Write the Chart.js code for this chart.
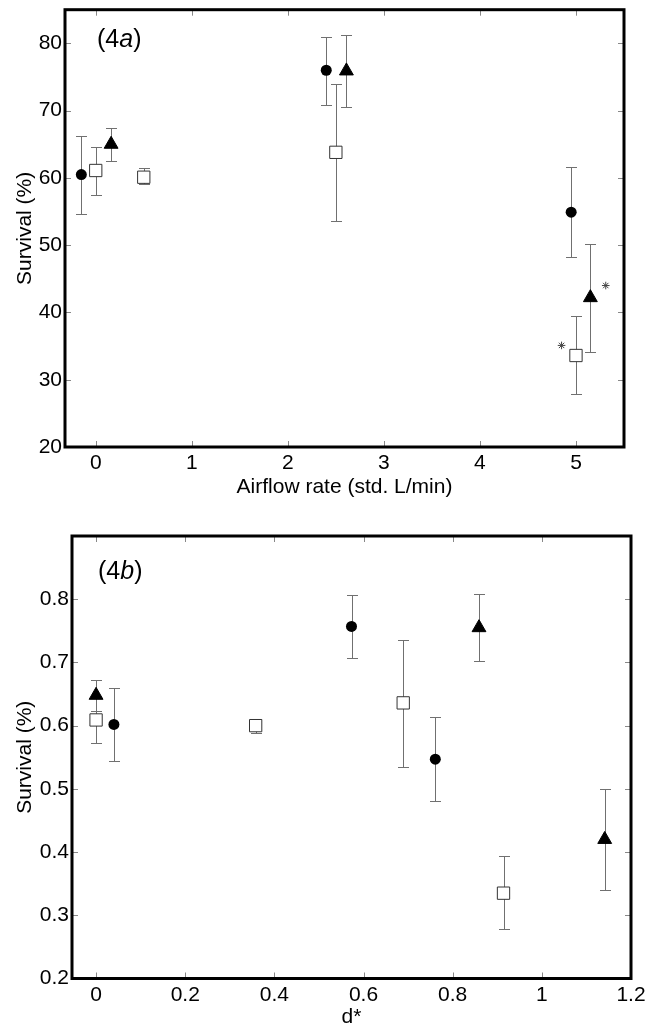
<!DOCTYPE html>
<html><head><meta charset="utf-8">
<script src="https://cdn.jsdelivr.net/npm/chart.js@4.4.0/dist/chart.umd.min.js"></script>
<style>
html,body{margin:0;padding:0;background:#fff;overflow:hidden;width:656px;height:1027px;}
canvas{position:absolute;left:0;}
#a{top:0;}
#b{top:500px;}
</style></head><body>
<canvas id="a" width="656" height="500"></canvas>
<canvas id="b" width="656" height="530"></canvas>
<script>
// ---------- Panel (4a): survival vs airflow rate ----------
const airflowTicks = [0, 1, 2, 3, 4, 5];
const survivalPctTicks = [20, 30, 40, 50, 60, 70, 80];
const circleA_x  = [-0.15, 2.40, 4.95];
const circleA_y  = [60.5, 76.0, 54.9];
const circleA_lo = [54.7, 70.9, 48.3];
const circleA_hi = [66.3, 81.0, 61.6];
const squareA_x  = [0, 0.5, 2.5, 5.0];
const squareA_y  = [61.1, 60.1, 63.8, 33.6];
const squareA_lo = [57.5, 59.1, 53.6, 27.9];
const squareA_hi = [64.6, 61.4, 73.9, 39.4];
const triA_x  = [0.16, 2.61, 5.15];
const triA_y  = [65.0, 75.9, 42.2];
const triA_lo = [62.5, 70.5, 34.1];
const triA_hi = [67.4, 81.2, 50.1];
const starA_x = [4.85, 5.31];
const starA_y = [35.1, 44.0];

// ---------- Panel (4b): survival vs d* ----------
const dTicks = [0, 0.2, 0.4, 0.6, 0.8, 1, 1.2];
const survivalFracTicks = [0.2, 0.3, 0.4, 0.5, 0.6, 0.7, 0.8];
const circleB_x  = [0.04, 0.573, 0.761];
const circleB_y  = [0.602, 0.757, 0.547];
const circleB_lo = [0.544, 0.707, 0.481];
const circleB_hi = [0.660, 0.807, 0.613];
const squareB_x  = [0, 0.358, 0.689, 0.914];
const squareB_y  = [0.609, 0.600, 0.636, 0.335];
const squareB_lo = [0.572, 0.588, 0.535, 0.278];
const squareB_hi = [0.646, 0.611, 0.736, 0.393];
const triB_x  = [0, 0.859, 1.141];
const triB_y  = [0.648, 0.755, 0.420];
const triB_lo = [0.623, 0.702, 0.340];
const triB_hi = [0.672, 0.808, 0.500];

const FONT = "'Liberation Sans', Arial, Helvetica, sans-serif";

function pts(xs, ys) { return xs.map((x, i) => ({x: x, y: ys[i]})); }

const errorBarPlugin = {
  id: 'errorBars',
  beforeDatasetsDraw(chart) {
    const ctx = chart.ctx, xs = chart.scales.x, ys = chart.scales.y;
    ctx.save();
    ctx.strokeStyle = '#707070';
    ctx.lineWidth = 1;
    chart.data.datasets.forEach(ds => {
      if (!ds.errLo) return;
      ds.data.forEach((p, j) => {
        const px = Math.round(xs.getPixelForValue(p.x)) + 0.5;
        const t = Math.round(ys.getPixelForValue(ds.errHi[j])) + 0.5;
        const b = Math.round(ys.getPixelForValue(ds.errLo[j])) + 0.5;
        ctx.beginPath();
        ctx.moveTo(px, t); ctx.lineTo(px, b);
        ctx.moveTo(px - 5.5, t); ctx.lineTo(px + 5.5, t);
        ctx.moveTo(px - 5.5, b); ctx.lineTo(px + 5.5, b);
        ctx.stroke();
      });
    });
    ctx.restore();
  }
};

const framePlugin = {
  id: 'frame',
  beforeDatasetsDraw(chart) {
    const ctx = chart.ctx, a = chart.chartArea, xs = chart.scales.x, ys = chart.scales.y;
    ctx.save();
    ctx.strokeStyle = '#888';
    ctx.lineWidth = 1;
    ctx.beginPath();
    xs.ticks.forEach(t => {
      const px = Math.round(xs.getPixelForValue(t.value)) + 0.5;
      ctx.moveTo(px, a.bottom); ctx.lineTo(px, a.bottom - 6);
      ctx.moveTo(px, a.top); ctx.lineTo(px, a.top + 6);
    });
    ys.ticks.forEach(t => {
      const py = Math.round(ys.getPixelForValue(t.value)) + 0.5;
      ctx.moveTo(a.left, py); ctx.lineTo(a.left + 6, py);
      ctx.moveTo(a.right, py); ctx.lineTo(a.right - 6, py);
    });
    ctx.stroke();
    ctx.restore();
  },
  afterDatasetsDraw(chart) {
    const ctx = chart.ctx, a = chart.chartArea;
    ctx.save();
    ctx.strokeStyle = '#000';
    ctx.lineWidth = 3;
    ctx.strokeRect(a.left, a.top, a.right - a.left, a.bottom - a.top);
    const o = chart.options.plugins.panelLabel;
    if (o) {
      ctx.fillStyle = '#000';
      ctx.textBaseline = 'middle';
      ctx.textAlign = 'left';
      let x = o.x;
      ctx.font = '25px ' + FONT;
      ctx.fillText('(4', x, o.y); x += ctx.measureText('(4').width;
      ctx.font = 'italic 25px ' + FONT;
      ctx.fillText(o.letter, x, o.y); x += ctx.measureText(o.letter).width;
      ctx.font = '25px ' + FONT;
      ctx.fillText(')', x, o.y);
    }
    ctx.restore();
  }
};

function makeChart(id, cfg) {
  const datasets = [
    {label: 'circle', data: pts(cfg.c[0], cfg.c[1]), errLo: cfg.c[2], errHi: cfg.c[3],
     pointStyle: 'circle', pointRadius: 5.5, backgroundColor: '#000', borderColor: '#000', borderWidth: 0},
    {label: 'triangle', data: pts(cfg.t[0], cfg.t[1]), errLo: cfg.t[2], errHi: cfg.t[3],
     pointStyle: 'triangle', pointRadius: 8, backgroundColor: '#000', borderColor: '#000', borderWidth: 1},
    {label: 'square', data: pts(cfg.s[0], cfg.s[1]), errLo: cfg.s[2], errHi: cfg.s[3],
     pointStyle: 'rect', pointRadius: 8.7, backgroundColor: '#fff', borderColor: '#333', borderWidth: 1}
  ];
  if (cfg.star) datasets.push({label: 'star', data: pts(cfg.star[0], cfg.star[1]),
     pointStyle: 'star', pointRadius: 3.8, backgroundColor: '#444', borderColor: '#444', borderWidth: 1});
  return new Chart(document.getElementById(id), {
    type: 'scatter',
    data: {datasets: datasets},
    options: {
      responsive: false, animation: false, devicePixelRatio: 1,
      layout: {padding: {left: 0, top: cfg.padTop, right: cfg.padRight, bottom: 0}},
      plugins: {legend: {display: false}, tooltip: {enabled: false},
                panelLabel: cfg.label},
      elements: {point: {hoverRadius: 0}},
      scales: {
        x: {
          type: 'linear', min: cfg.xmin, max: cfg.xmax,
          grid: {display: false, drawTicks: false}, border: {display: false},
          ticks: {color: '#000', font: {family: FONT, size: 21}, padding: 4,
                  callback: v => String(v), maxRotation: 0},
          afterBuildTicks: s => { s.ticks = cfg.xTicks.map(v => ({value: v})); },
          afterFit: s => { s.height = cfg.xH; s.paddingLeft = 0; s.paddingRight = 0; },
          title: {display: true, text: cfg.xTitle, color: '#000',
                  font: {family: FONT, size: 21}, padding: {top: 0, bottom: cfg.xTitlePad}}
        },
        y: {
          type: 'linear', min: cfg.ymin, max: cfg.ymax,
          grid: {display: false, drawTicks: false}, border: {display: false},
          ticks: {color: '#000', font: {family: FONT, size: 21}, padding: 3,
                  callback: v => String(v)},
          afterBuildTicks: s => { s.ticks = cfg.yTicks.map(v => ({value: v})); },
          afterFit: s => { s.width = cfg.yW; s.paddingTop = 0; s.paddingBottom = 0; },
          title: {display: true, text: 'Survival (%)', color: '#000',
                  font: {family: FONT, size: 21}, padding: {top: 13, bottom: 0}}
        }
      }
    },
    plugins: [errorBarPlugin, framePlugin]
  });
}

makeChart('a', {
  c: [circleA_x, circleA_y, circleA_lo, circleA_hi],
  t: [triA_x, triA_y, triA_lo, triA_hi],
  s: [squareA_x, squareA_y, squareA_lo, squareA_hi],
  star: [starA_x, starA_y],
  xmin: -0.32, xmax: 5.5, ymin: 20, ymax: 85,
  xTicks: airflowTicks, yTicks: survivalPctTicks,
  xTitle: 'Airflow rate (std. L/min)', xTitlePad: 0,
  padTop: 7, padRight: 32, xH: 53, yW: 65,
  label: {x: 97, y: 40.5, letter: 'a'}
});

makeChart('b', {
  c: [circleB_x, circleB_y, circleB_lo, circleB_hi],
  t: [triB_x, triB_y, triB_lo, triB_hi],
  s: [squareB_x, squareB_y, squareB_lo, squareB_hi],
  xmin: -0.054, xmax: 1.2, ymin: 0.2, ymax: 0.9,
  xTicks: dTicks, yTicks: survivalFracTicks,
  xTitle: 'd*', xTitlePad: 0,
  padTop: 36, padRight: 25, xH: 51.5, yW: 72,
  label: {x: 98, y: 72, letter: 'b'}
});
</script>
</body></html>
